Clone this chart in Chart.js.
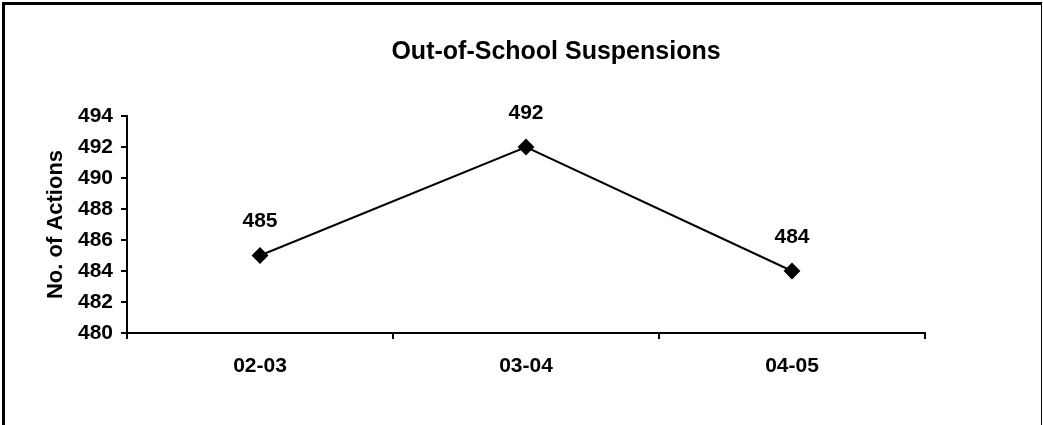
<!DOCTYPE html>
<html>
<head>
<meta charset="utf-8">
<script src="https://cdn.jsdelivr.net/npm/chart.js@4"></script>
<style>
  html, body { margin: 0; padding: 0; background: #fff; overflow: hidden; }
  #wrap { position: absolute; left: 0; top: 0; width: 1043px; height: 425px; }
  #frame { position: absolute; left: 2px; top: 2px; width: 1036px; height: 500px;
    border-left: 3px solid #000; border-top: 3px solid #000; border-right: 1px solid #000; }
  canvas { position: absolute; left: 0; top: 0; }
</style>
</head>
<body>
<div id="wrap">
  <canvas id="chart" width="1043" height="425"></canvas>
  <div id="frame"></div>
</div>
<script>
// chart data
const titleText = 'Out-of-School Suspensions';
const yTitle = 'No. of Actions';
const years = ['02-03', '03-04', '04-05'];
const actions = [485, 492, 484];
const yMin = 480;
const yMax = 494;
const yStep = 2;

const fontFam = '"Liberation Sans", Arial, sans-serif';
Chart.defaults.font.family = fontFam;
Chart.defaults.color = '#000';

// title drawn above the plot
const titlePlugin = {
  id: 'titlePlugin',
  afterDraw(c) {
    const ctx = c.ctx;
    ctx.save();
    ctx.font = 'bold 25px ' + fontFam;
    ctx.fillStyle = '#000';
    ctx.textAlign = 'center';
    ctx.textBaseline = 'alphabetic';
    ctx.fillText(titleText, 556, 59);
    ctx.restore();
  }
};

// value labels above each point
const valueLabels = {
  id: 'valueLabels',
  afterDatasetsDraw(c) {
    const ctx = c.ctx;
    const meta = c.getDatasetMeta(0);
    ctx.save();
    ctx.font = 'bold 21px ' + fontFam;
    ctx.fillStyle = '#000';
    ctx.textAlign = 'center';
    ctx.textBaseline = 'middle';
    meta.data.forEach(function (pt, i) {
      ctx.fillText(String(actions[i]), pt.x, pt.y - 34);
    });
    ctx.restore();
  }
};

const chart = new Chart(document.getElementById('chart'), {
  type: 'line',
  data: {
    labels: years,
    datasets: [{
      data: actions,
      borderColor: '#000',
      borderWidth: 2,
      backgroundColor: '#000',
      pointStyle: 'rectRot',
      pointRadius: 7,
      pointHoverRadius: 7,
      tension: 0
    }]
  },
  options: {
    responsive: false,
    animation: false,
    events: [],
    layout: { padding: { left: 10, right: 118, top: 116, bottom: 32 } },
    plugins: { legend: { display: false }, title: { display: false }, tooltip: { enabled: false } },
    scales: {
      x: {
        offset: true,
        grid: { offset: true, drawOnChartArea: false, drawTicks: true, tickLength: 6, color: '#000', lineWidth: 2 },
        border: { color: '#000', width: 2 },
        ticks: { font: { size: 21, weight: 'bold' }, padding: 15, maxRotation: 0 },
        afterFit(axis) { axis.height = 60; }
      },
      y: {
        min: yMin,
        max: yMax,
        grid: { drawOnChartArea: false, drawTicks: true, tickLength: 6, color: '#000', lineWidth: 2 },
        border: { color: '#000', width: 2 },
        ticks: { stepSize: yStep, font: { size: 21, weight: 'bold' }, padding: 8 },
        title: { display: true, text: yTitle, font: { size: 22, weight: 'bold' }, padding: { top: 33, bottom: 0 } },
        afterFit(axis) { axis.width = 117; }
      }
    }
  },
  plugins: [titlePlugin, valueLabels]
});
</script>
</body>
</html>
